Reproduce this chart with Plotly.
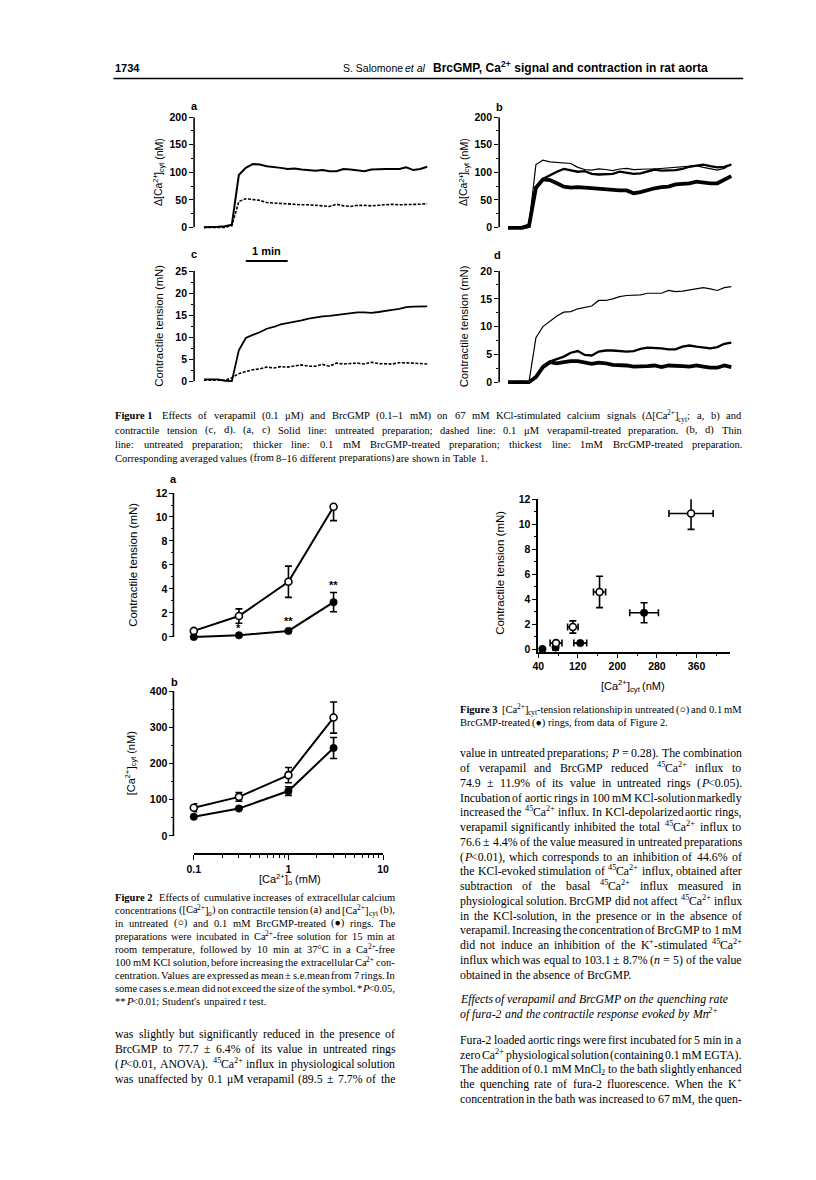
import re
import math
import plotly.graph_objects as go

W, H = 816, 1180
SANS = "Liberation Sans, Arial, Helvetica, sans-serif"
SERIF = "Liberation Serif, Times New Roman, serif"


def px(x):
    return x / W


def py(y):
    return 1 - y / H


# ---------------- Figure 1 data (time in s) ----------------
T_S = [0, 10, 20, 30, 40, 50, 60, 70, 80, 90, 100, 110, 120, 130, 140, 150, 160,
       170, 180, 190, 200, 210, 220, 230, 240, 250, 260, 270, 280, 290, 300, 310, 320]
A_UNTREATED = [0, 0, 1, 2, 5, 95, 108, 115, 114, 111, 110, 108, 106, 107, 105, 104, 103,
               104, 102, 102, 106, 105, 103, 102, 105, 106, 106, 106, 106, 109, 104, 106, 110]
A_VERAPAMIL = [0, 0, 1, 0, 3, 47, 52, 51, 49, 45, 44, 43, 43, 42, 41, 41, 40,
               39, 38, 42, 39, 38, 40, 40, 39, 40, 41, 42, 41, 41, 41, 42, 43]
B_UNTREATED = [0, 0, 2, 5, 114, 122, 119, 118, 118, 116, 109, 105, 104, 106, 105, 103, 106,
               107, 105, 106, 106, 106, 107, 107, 108, 110, 111, 112, 109, 106, 104, 107, 115]
B_BRC01 = [0, 0, 0, 5, 70, 88, 95, 101, 106, 104, 101, 102, 97, 96, 97, 97, 101,
           99, 97, 98, 102, 105, 103, 103, 104, 106, 110, 112, 114, 111, 109, 110, 114]
B_BRC1 = [-1, -1, -1, 2, 72, 87, 86, 80, 74, 72, 73, 72, 71, 69, 68, 67, 67,
          67, 62, 64, 68, 71, 73, 74, 78, 79, 80, 83, 81, 80, 80, 87, 93]
C_UNTREATED = [0.4, 0.4, 0.4, 0.1, 0, 7.0, 9.8, 10.5, 11.1, 11.9, 12.3, 12.9, 13.2, 13.4, 13.8, 14.2, 14.5,
               14.7, 14.8, 15.0, 15.2, 15.5, 15.6, 15.6, 15.5, 15.7, 16.0, 16.2, 16.4, 16.8, 16.9, 16.9, 17.0]
C_VERAPAMIL = [0.2, 0.2, 0.2, 0.2, 0.8, 1.7, 2.2, 2.6, 2.8, 3.2, 3.0, 3.3, 3.2, 3.5, 3.7, 3.4, 3.4,
               3.8, 3.4, 4.1, 3.9, 4.0, 4.1, 3.9, 4.3, 4.0, 4.0, 3.9, 4.2, 4.2, 4.1, 4.0, 3.9]
D_UNTREATED = [0, 0.1, 0.2, 0, 8.0, 10.0, 10.9, 11.9, 12.6, 12.7, 13.2, 13.4, 13.7, 14.7, 14.7, 15.0, 15.4,
               15.6, 15.7, 15.7, 16.0, 16.0, 16.0, 16.5, 16.3, 16.4, 16.6, 16.8, 17.0, 16.8, 16.5, 17.0, 17.2]
D_BRC01 = [0, 0, 0, 0, 1.0, 2.9, 3.7, 4.2, 4.6, 5.3, 5.6, 4.9, 4.8, 5.5, 5.7, 5.7, 5.6,
           5.5, 5.6, 6.0, 6.2, 6.2, 6.1, 5.9, 5.9, 6.4, 6.6, 6.4, 6.3, 6.1, 6.3, 6.9, 7.1]
D_BRC1 = [0, 0, 0, 0, 0.9, 2.7, 3.6, 3.4, 3.6, 3.8, 3.8, 3.6, 3.3, 3.5, 3.4, 3.1, 3.1,
          3.0, 2.8, 2.8, 2.9, 3.0, 2.7, 3.0, 3.0, 2.9, 2.8, 3.0, 2.8, 2.6, 2.6, 3.0, 2.7]
SCALE_BAR_S = [60, 120]
CA_TICKS = [0, 50, 100, 150, 200]
CA_MINOR = [25, 75, 125, 175]
TEN_C_TICKS = [0, 5, 10, 15, 20, 25]
TEN_D_TICKS = [0, 5, 10, 15, 20]
TEN_MINOR = [2.5, 7.5, 12.5, 17.5, 22.5]

# ---------------- Figure 2 data ----------------
CA_O_MM = [0.1, 0.3, 1, 3]
TEN_OPEN = [0.5, 1.74, 4.6, 10.85]
TEN_OPEN_PLUS = [0, 0.6, 1.3, 0]
TEN_OPEN_MINUS = [0, 0.6, 1.3, 1.15]
TEN_FILLED = [0, 0.13, 0.5, 2.9]
TEN_FILLED_ERR = [0, 0, 0, 0.8]
CYT_OPEN = [78, 108, 168, 327]
CYT_OPEN_ERR = [11, 12, 21, 43]
CYT_FILLED = [53, 76, 124, 243]
CYT_FILLED_ERR = [0, 0, 12, 29]
SIG_MARKS = [("*", 0.3, 0.75), ("**", 1, 1.35), ("**", 3, 4.35)]
F2A_TICKS = [0, 2, 4, 6, 8, 10, 12]
F2A_MINOR = [1, 3, 5, 7, 9, 11]
F2B_TICKS = [0, 100, 200, 300, 400]
F2B_MINOR = [50, 150, 250, 350]
LOG_MAJOR = [0.1, 1, 10]
LOG_MAJOR_TXT = ["0.1", "1", "10"]
LOG_MINOR = [0.2, 0.3, 0.4, 0.5, 0.6, 0.7, 0.8, 0.9, 2, 3, 4, 5, 6, 7, 8, 9]

# ---------------- Figure 3 data ----------------
F3_OPEN_X = [76, 110, 164, 349]
F3_OPEN_Y = [0.48, 1.77, 4.58, 10.86]
F3_OPEN_XERR = [12, 10.6, 12.3, 44.7]
F3_OPEN_YERR = [0, 0.49, 1.26, 1.27]
F3_FILLED_X = [48.5, 75, 125, 254]
F3_FILLED_Y = [0, 0.13, 0.48, 2.91]
F3_FILLED_XERR = [0, 5, 13, 29]
F3_FILLED_YERR = [0, 0, 0, 0.8]
F3_XTICKS = [40, 120, 200, 280, 360]
F3_XMINOR = [80, 160, 240, 320, 400]
F3_YTICKS = [0, 2, 4, 6, 8, 10, 12]
F3_YMINOR = [1, 3, 5, 7, 9, 11]

# ---------------- text ----------------
HEADER_PAGE = "<b>1734</b>"
HEADER_AUTH = "S. Salomone <i>et al</i>"
HEADER_TITLE = "<b>BrcGMP, Ca<sup>2+</sup> signal and contraction in rat aorta</b>"

FIG1_CAPTION = [
    "<b>Figure\u00a01</b>\u00a0 Effects of verapamil (0.1 \u03bcM) and BrcGMP (0.1\u20131 mM) on 67 mM KCl-stimulated calcium signals (\u0394[Ca<sup>2+</sup>]<sub>cyt</sub>; a, b) and",
    "contractile tension (c, d). (a, c) Solid line: untreated preparation; dashed line: 0.1 \u03bcM verapamil-treated preparation. (b, d) Thin",
    "line: untreated preparation; thicker line: 0.1 mM BrcGMP-treated preparation; thickest line: 1mM BrcGMP-treated preparation.",
    "Corresponding averaged values (from 8\u201316 different preparations) are shown in Table 1.",
]
FIG2_CAPTION = [
    "<b>Figure\u00a02</b>\u00a0 Effects of cumulative increases of extracellular calcium",
    "concentrations ([Ca<sup>2+</sup>]<sub>o</sub>) on contractile tension (a) and [Ca<sup>2+</sup>]<sub>cyt</sub> (b),",
    "in untreated (\u25cb) and 0.1 mM BrcGMP-treated (\u25cf) rings. The",
    "preparations were incubated in Ca<sup>2+</sup>-free solution for 15 min at",
    "room temperature, followed by 10 min at 37\u00b0C in a Ca<sup>2+</sup>-free",
    "100 mM KCl solution, before increasing the extracellular Ca<sup>2+</sup> con-",
    "centration. Values are expressed as mean \u00b1 s.e.mean from 7 rings. In",
    "some cases s.e.mean did not exceed the size of the symbol. *<i>P</i>&lt;0.05,",
    "**<i>P</i>&lt;0.01; Student's unpaired <i>t</i> test.",
]
FIG3_CAPTION = [
    "<b>Figure\u00a03</b>\u00a0 [Ca<sup>2+</sup>]<sub>cyt</sub>-tension relationship in untreated (\u25cb) and 0.1 mM",
    "BrcGMP-treated (\u25cf) rings, from data of Figure 2.",
]
LEFT_BODY = [
    "was slightly but significantly reduced in the presence of",
    "BrcGMP to 77.7 \u00b1 6.4% of its value in untreated rings",
    "(<i>P</i>&lt;0.01, ANOVA). <sup>45</sup>Ca<sup>2+</sup> influx in physiological solution",
    "was unaffected by 0.1 \u03bcM verapamil (89.5 \u00b1 7.7% of the",
]
RIGHT_BODY = [
    "value in untreated preparations; <i>P</i> = 0.28). The combination",
    "of verapamil and BrcGMP reduced <sup>45</sup>Ca<sup>2+</sup> influx to",
    "74.9 \u00b1 11.9% of its value in untreated rings (<i>P</i>&lt;0.05).",
    "Incubation of aortic rings in 100 mM KCl-solution markedly",
    "increased the <sup>45</sup>Ca<sup>2+</sup> influx. In KCl-depolarized aortic rings,",
    "verapamil significantly inhibited the total <sup>45</sup>Ca<sup>2+</sup> influx to",
    "76.6 \u00b1 4.4% of the value measured in untreated preparations",
    "(<i>P</i>&lt;0.01), which corresponds to an inhibition of 44.6% of",
    "the KCl-evoked stimulation of <sup>45</sup>Ca<sup>2+</sup> influx, obtained after",
    "subtraction of the basal <sup>45</sup>Ca<sup>2+</sup> influx measured in",
    "physiological solution. BrcGMP did not affect <sup>45</sup>Ca<sup>2+</sup> influx",
    "in the KCl-solution, in the presence or in the absence of",
    "verapamil. Increasing the concentration of BrcGMP to 1 mM",
    "did not induce an inhibition of the K<sup>+</sup>-stimulated <sup>45</sup>Ca<sup>2+</sup>",
    "influx which was equal to 103.1 \u00b1 8.7% (<i>n</i> = 5) of the value",
    "obtained in the absence of BrcGMP.",
]
HEADING = [
    "Effects of verapamil and BrcGMP on the quenching rate",
    "of fura-2 and the contractile response evoked by Mn<sup>2+</sup>",
]
RIGHT_PARA = [
    "Fura-2 loaded aortic rings were first incubated for 5 min in a",
    "zero Ca<sup>2+</sup> physiological solution (containing 0.1 mM EGTA).",
    "The addition of 0.1 mM MnCl<sub>2</sub> to the bath slightly enhanced",
    "the quenching rate of fura-2 fluorescence. When the K<sup>+</sup>",
    "concentration in the bath was increased to 67 mM, the quen-",
]
CA_TITLE = "\u0394[Ca<sup>2+</sup>]<sub>cyt</sub> (nM)"
CYT_TITLE = "[Ca<sup>2+</sup>]<sub>cyt</sub> (nM)"
CAO_TITLE = "[Ca<sup>2+</sup>]<sub>o</sub> (mM)"
TEN_TITLE = "Contractile tension (mN)"

# ---------------- text metrics ----------------
LOW = "abcdefghijklmnopqrstuvwxyz"
UP = "ABCDEFGHIJKLMNOPQRSTUVWXYZ"
SERIF_M = {
    'r': (dict(zip(LOW, [444, 500, 444, 500, 444, 333, 500, 500, 278, 278, 500, 278, 778, 500, 500, 500, 500, 333, 389, 278, 500, 500, 722, 500, 500, 444])),
          dict(zip(UP, [722, 667, 667, 722, 611, 556, 722, 722, 333, 389, 722, 611, 889, 722, 722, 556, 722, 667, 556, 611, 722, 722, 944, 722, 722, 611]))),
    'i': (dict(zip(LOW, [500, 500, 444, 500, 444, 278, 500, 500, 278, 278, 444, 278, 722, 500, 500, 500, 500, 389, 389, 278, 500, 444, 667, 444, 444, 389])),
          dict(zip(UP, [611, 611, 667, 722, 611, 611, 722, 722, 333, 444, 667, 556, 833, 667, 722, 611, 722, 611, 500, 556, 722, 611, 833, 611, 556, 556]))),
    'b': (dict(zip(LOW, [500, 556, 444, 556, 444, 333, 500, 556, 278, 333, 556, 278, 833, 556, 500, 556, 556, 444, 389, 333, 556, 500, 722, 500, 500, 444])),
          dict(zip(UP, [722, 667, 722, 722, 667, 611, 778, 778, 389, 500, 778, 667, 944, 722, 778, 611, 778, 722, 556, 667, 722, 722, 1000, 722, 722, 667]))),
    'digit': 500,
    'p': {' ': 250, '\u00a0': 250, '.': 250, ',': 250, ':': 278, ';': 278, '-': 333, '\u2013': 500,
          '(': 333, ')': 333, '[': 333, ']': 333, '%': 833, '+': 564, '=': 564, '<': 564, '>': 564,
          '\u00b1': 564, '*': 500, "'": 333, '/': 278, '\u00b0': 400, '\u03bc': 500, '\u0394': 612,
          '\u25cb': 600, '\u25cf': 600},
}
SANS_M = {
    'r': (dict(zip(LOW, [556, 556, 500, 556, 556, 278, 556, 556, 222, 222, 500, 222, 833, 556, 556, 556, 556, 333, 500, 278, 556, 500, 722, 500, 500, 500])),
          dict(zip(UP, [667, 667, 722, 722, 667, 611, 778, 722, 278, 500, 667, 556, 833, 722, 778, 667, 778, 722, 667, 611, 722, 667, 944, 667, 667, 611]))),
    'b': (dict(zip(LOW, [556, 611, 556, 611, 556, 333, 611, 611, 278, 278, 556, 278, 889, 611, 611, 611, 611, 389, 556, 333, 611, 556, 778, 556, 556, 500])),
          dict(zip(UP, [722, 722, 722, 722, 667, 611, 778, 722, 278, 556, 722, 611, 833, 722, 778, 667, 778, 722, 667, 611, 722, 667, 944, 667, 667, 611]))),
    'digit': 556,
    'p': {' ': 278, '\u00a0': 278, '.': 278, ',': 278, '(': 333, ')': 333, '[': 278, ']': 278,
          '+': 584, '-': 333, '\u0394': 668, '*': 389},
}
SANS_M['i'] = SANS_M['r']


def unescape(s):
    return s.replace('&lt;', '<').replace('&gt;', '>').replace('&amp;', '&')


def segments(token, bold=False, ital=False):
    segs = []
    shift = None
    for part in re.split(r'(<[^>]+>)', token):
        if not part:
            continue
        if part.startswith('<'):
            closing = part.startswith('</')
            tag = part.strip('<>/').lower()
            if tag in ('sup', 'sub'):
                shift = None if closing else tag
            elif tag == 'b':
                bold = not closing
            elif tag == 'i':
                ital = not closing
            continue
        segs.append((part, shift, bold, ital))
    return segs


def seg_width(text, shift, bold, ital, size, m):
    low, up = m['b' if bold else 'i' if ital else 'r']
    total = 0
    for ch in unescape(text):
        if ch in low:
            w = low[ch]
        elif ch in up:
            w = up[ch]
        elif ch.isdigit():
            w = m['digit']
        else:
            w = m['p'].get(ch, 500)
        total += w
    return total * size / 1000.0 * (0.7 if shift else 1.0)


def token_width(token, size, m, bold=False, ital=False):
    return sum(seg_width(t, s, b, i, size, m) for t, s, b, i in segments(token, bold, ital))


annotations = []
shapes = []


def ann(x, y, text, size, family, xanchor='left', yanchor='middle', angle=0, xref='paper', yref='paper',
        bold=False, ital=False):
    annotations.append(dict(x=x, y=y, xref=xref, yref=yref, text=text, showarrow=False,
                            xanchor=xanchor, yanchor=yanchor, textangle=angle,
                            borderpad=0, borderwidth=0,
                            font=dict(family=family, size=size, color='black',
                                      weight='bold' if bold else 'normal',
                                      style='italic' if ital else 'normal')))


def draw_rich(x, y, token, size, family, m, bold=False, ital=False, align='left', vertical=False):
    """Draw rich text (sup/sub/b/i) as positioned segments. x, y in page pixels."""
    segs = segments(token, bold, ital)
    total = sum(seg_width(t, s, b, i, size, m) for t, s, b, i in segs)
    if align == 'center':
        start = -total / 2
    elif align == 'right':
        start = -total
    else:
        start = 0
    cur = start
    for t, s, b, i in segs:
        w = seg_width(t, s, b, i, size, m)
        if unescape(t).strip('\u00a0 ') == '':
            cur += w
            continue
        off = -0.30 * size if s == 'sup' else (0.30 * size if s == 'sub' else 0)
        fs = size * 0.7 if s else size
        if vertical:
            ann(px(x + off), py(y - cur), t, fs, family, xanchor='center', yanchor='bottom', angle=-90,
                bold=b, ital=i)
        else:
            ann(px(x + cur), py(y + off), t, fs, family, xanchor='left', yanchor='middle', bold=b, ital=i)
        cur += w
    return total


def place_lines(lines, x0, x1, y0, dy, size, justify=True, last_justified=False, ital=False):
    for k, line in enumerate(lines):
        words = line.split(' ')
        y = y0 + k * dy
        is_last = (k == len(lines) - 1) and not last_justified
        ws = [token_width(w, size, SERIF_M, ital=ital) for w in words]
        do_just = justify and not is_last and len(words) > 1
        if do_just:
            gap = max((x1 - x0 - sum(ws)) / (len(words) - 1), 0.12 * size)
        else:
            gap = 0.3 * size
        x = x0
        for j, (w, wd) in enumerate(zip(words, ws)):
            if do_just and j == len(words) - 1:
                draw_rich(x1, y, w, size, SERIF, SERIF_M, ital=ital, align='right')
            else:
                draw_rich(x, y, w, size, SERIF, SERIF_M, ital=ital)
            x += wd + gap


fig = go.Figure()


def add_series(x, y, ax, width, dash='solid'):
    fig.add_trace(go.Scatter(x=x, y=y, xaxis='x' + ax, yaxis='y' + ax, mode='lines',
                             line=dict(color='black', width=width, dash=dash),
                             showlegend=False, hoverinfo='skip'))


# Figure 1 traces
add_series(T_S, A_UNTREATED, '', 2.0)
add_series(T_S, A_VERAPAMIL, '', 1.6, dash='3px,1.5px')
add_series(T_S, B_UNTREATED, '2', 1.2)
add_series(T_S, B_BRC01, '2', 2.3)
add_series(T_S, B_BRC1, '2', 3.8)
add_series(T_S, C_UNTREATED, '3', 1.8)
add_series(T_S, C_VERAPAMIL, '3', 1.6, dash='3px,1.5px')
add_series(T_S, D_UNTREATED, '4', 1.2)
add_series(T_S, D_BRC01, '4', 2.3)
add_series(T_S, D_BRC1, '4', 3.8)

OPEN_MK = dict(symbol='circle', size=7, color='white', line=dict(color='black', width=1.6))
FILL_MK = dict(symbol='circle', size=7.5, color='black', line=dict(color='black', width=0.5))


def err(plus, minus=None):
    if minus is None:
        minus = plus
    return dict(type='data', symmetric=False, array=plus, arrayminus=minus,
                color='black', thickness=1.6, width=3.5)


# Figure 2
fig.add_trace(go.Scatter(x=CA_O_MM, y=TEN_FILLED, xaxis='x5', yaxis='y5', mode='lines+markers',
                         line=dict(color='black', width=2), marker=FILL_MK, cliponaxis=False,
                         error_y=err(TEN_FILLED_ERR), showlegend=False, hoverinfo='skip'))
fig.add_trace(go.Scatter(x=CA_O_MM, y=TEN_OPEN, xaxis='x5', yaxis='y5', mode='lines+markers',
                         line=dict(color='black', width=2), marker=OPEN_MK, cliponaxis=False,
                         error_y=err(TEN_OPEN_PLUS, TEN_OPEN_MINUS), showlegend=False, hoverinfo='skip'))
fig.add_trace(go.Scatter(x=CA_O_MM, y=CYT_FILLED, xaxis='x6', yaxis='y6', mode='lines+markers',
                         line=dict(color='black', width=2), marker=FILL_MK, cliponaxis=False,
                         error_y=err(CYT_FILLED_ERR), showlegend=False, hoverinfo='skip'))
fig.add_trace(go.Scatter(x=CA_O_MM, y=CYT_OPEN, xaxis='x6', yaxis='y6', mode='lines+markers',
                         line=dict(color='black', width=2), marker=OPEN_MK, cliponaxis=False,
                         error_y=err(CYT_OPEN_ERR), showlegend=False, hoverinfo='skip'))

# Figure 3
fig.add_trace(go.Scatter(x=F3_FILLED_X, y=F3_FILLED_Y, xaxis='x7', yaxis='y7', mode='markers',
                         marker=FILL_MK, cliponaxis=False,
                         error_x=err(F3_FILLED_XERR), error_y=err(F3_FILLED_YERR),
                         showlegend=False, hoverinfo='skip'))
fig.add_trace(go.Scatter(x=F3_OPEN_X, y=F3_OPEN_Y, xaxis='x7', yaxis='y7', mode='markers',
                         marker=OPEN_MK, cliponaxis=False,
                         error_x=err(F3_OPEN_XERR), error_y=err(F3_OPEN_YERR),
                         showlegend=False, hoverinfo='skip'))

TICKFONT = dict(family=SANS, size=10.5, color='black', weight='bold')


def ydom(p_v0, p_v1, v0, v1, rmin, rmax):
    k = (p_v0 - p_v1) / (v1 - v0)
    bottom = p_v0 + (v0 - rmin) * k
    top = p_v1 - (rmax - v1) * k
    return [py(bottom), py(top)]


def yax(tickvals, minor, rng, dom, anchor, showline=False, position=None):
    d = dict(domain=dom, range=rng, anchor=anchor, tickmode='array', tickvals=tickvals,
             ticktext=[str(v) for v in tickvals], ticks='outside', ticklen=4, tickwidth=1.3,
             tickcolor='black', showline=showline, linecolor='black', linewidth=1.6,
             minor=dict(tickmode='array', tickvals=minor, ticks='outside', ticklen=2.5,
                        tickwidth=1.1, tickcolor='black', showgrid=False),
             showgrid=False, zeroline=False, tickfont=TICKFONT, fixedrange=True)
    if position is not None:
        d['position'] = position
    return d


K = 0.709  # px per second
XA = dict(domain=[px(182), px(425)], range=[-(192 - 182) / K, (425 - 192) / K], visible=False, fixedrange=True)
XB = dict(domain=[px(492), px(735)], range=[-(501 - 492) / K, (735 - 501) / K], visible=False, fixedrange=True)

layout = dict(
    width=W, height=H, margin=dict(l=0, r=0, t=0, b=0),
    paper_bgcolor='white', plot_bgcolor='rgba(0,0,0,0)', showlegend=False, hovermode=False,
    xaxis=dict(XA, anchor='y'),
    yaxis=yax(CA_TICKS, CA_MINOR, [-5, 200], ydom(215, 104, 0, 200, -5, 200), 'x'),
    xaxis2=dict(XB, anchor='y2'),
    yaxis2=yax(CA_TICKS, CA_MINOR, [-5, 200], ydom(215, 104, 0, 200, -5, 200), 'x2'),
    xaxis3=dict(XA, anchor='y3'),
    yaxis3=yax(TEN_C_TICKS, TEN_MINOR, [-0.6, 25], ydom(370, 259, 0, 25, -0.6, 25), 'x3'),
    xaxis4=dict(XB, anchor='y4'),
    yaxis4=yax(TEN_D_TICKS, TEN_MINOR[:4], [-0.5, 20], ydom(371, 259, 0, 20, -0.5, 20), 'x4'),
    xaxis5=dict(type='log', domain=[px(181.7), px(374)], range=[-1, 1], anchor='y5', visible=False, fixedrange=True),
    yaxis5=yax(F2A_TICKS, F2A_MINOR, [-0.3, 12], ydom(627.7, 482.7, 0, 12, -0.3, 12), 'free', position=px(161)),
    xaxis6=dict(type='log', domain=[px(181.7), px(374)], range=[-1, 1], anchor='free', position=py(846.7),
                showline=True, linecolor='black', linewidth=1.6, tickmode='array', tickvals=LOG_MAJOR,
                ticktext=LOG_MAJOR_TXT, ticks='outside', ticklen=5, tickwidth=1.4, tickcolor='black',
                minor=dict(tickmode='array', tickvals=LOG_MINOR, ticks='outside', ticklen=3,
                           tickwidth=1.1, tickcolor='black', showgrid=False),
                showgrid=False, zeroline=False, tickfont=TICKFONT, fixedrange=True),
    yaxis6=yax(F2B_TICKS, F2B_MINOR, [-8, 400], ydom(828.3, 682.3, 0, 400, -8, 400), 'free', position=px(161)),
    xaxis7=dict(domain=[px(531.7), px(726.7)], range=[40, 428], anchor='y7', showline=True,
                linecolor='black', linewidth=1.6, tickmode='array', tickvals=F3_XTICKS,
                ticktext=[str(v) for v in F3_XTICKS], ticks='outside', ticklen=4, tickwidth=1.3,
                tickcolor='black',
                minor=dict(tickmode='array', tickvals=F3_XMINOR, ticks='outside', ticklen=2.5,
                           tickwidth=1.1, tickcolor='black', showgrid=False),
                showgrid=False, zeroline=False, tickfont=TICKFONT, fixedrange=True),
    yaxis7=yax(F3_YTICKS, F3_YMINOR, [-0.21, 12], ydom(640, 489, 0, 12, -0.21, 12), 'x7', showline=True),
)

# y-axis lines of Figure 1 panels (exact 0..max)
for axn, top in (('', 200), ('2', 200), ('3', 25), ('4', 20)):
    shapes.append(dict(type='line', xref='x%s domain' % axn, x0=0, x1=0, yref='y' + axn, y0=0, y1=top,
                       line=dict(color='black', width=1.6)))
# y-axis lines of Figure 2
shapes.append(dict(type='line', xref='paper', x0=px(161), x1=px(161), yref='y5', y0=0, y1=12,
                   line=dict(color='black', width=1.6)))
shapes.append(dict(type='line', xref='paper', x0=px(161), x1=px(161), yref='y6', y0=0, y1=400,
                   line=dict(color='black', width=1.6)))
# 1 min scale bar
shapes.append(dict(type='line', xref='x3', x0=SCALE_BAR_S[0], x1=SCALE_BAR_S[1], yref='paper',
                   y0=py(249), y1=py(249), line=dict(color='black', width=2)))
# header rule
shapes.append(dict(type='line', xref='paper', yref='paper', x0=px(100), x1=px(740), y0=py(65), y1=py(65),
                   line=dict(color='black', width=1.5)))

# Header
draw_rich(102, 54, HEADER_PAGE, 11, SANS, SANS_M)
draw_rich(333, 54, HEADER_AUTH, 10.5, SANS, SANS_M)
draw_rich(425, 54, HEADER_TITLE, 12, SANS, SANS_M)

# Figure 1 labels
for lab, x, y in (('a', 182, 93), ('b', 492, 94), ('c', 182, 242), ('d', 490, 243)):
    ann(px(x), py(y), lab, 11, SANS, xanchor='center', bold=True)
draw_rich(146, 159.5, CA_TITLE, 10.5, SANS, SANS_M, align='center', vertical=True)
draw_rich(456, 159.5, CA_TITLE, 10.5, SANS, SANS_M, align='center', vertical=True)
ann(px(146), py(314.5), TEN_TITLE, 11.3, SANS, xanchor='center', angle=-90)
ann(px(456), py(315), TEN_TITLE, 11.3, SANS, xanchor='center', angle=-90)
ann(sum(SCALE_BAR_S) / 2, py(239), "1 min", 11, SANS, xanchor='center', xref='x3', bold=True)

# Figure 2 labels
ann(px(161), py(469), 'a', 11, SANS, xanchor='center', bold=True)
ann(px(161.7), py(672.7), 'b', 11, SANS, xanchor='center', bold=True)
ann(px(120), py(555), TEN_TITLE, 11.5, SANS, xanchor='center', angle=-90)
draw_rich(118, 755, CYT_TITLE, 11, SANS, SANS_M, align='center', vertical=True)
draw_rich(279, 872, CAO_TITLE, 11, SANS, SANS_M, align='center')
for s, xv, yv in SIG_MARKS:
    ann(math.log10(xv), yv, s, 11, SANS, xanchor='center', xref='x5', yref='y5', bold=True)

# Figure 3 labels
ann(px(493), py(563), TEN_TITLE, 11.5, SANS, xanchor='center', angle=-90)
draw_rich(628, 677, CYT_TITLE, 11, SANS, SANS_M, align='center')

# Captions and body text
place_lines(FIG1_CAPTION, 102, 738, 405, 14.3, 10.5)
place_lines(FIG2_CAPTION, 102, 386, 890, 13.1, 10.5)
place_lines(FIG3_CAPTION, 452, 738, 701, 13.2, 10.5)
place_lines(LEFT_BODY, 102, 386, 1028, 15.0, 11.8, last_justified=True)
place_lines(RIGHT_BODY, 452, 738, 745, 14.87, 11.8)
place_lines(HEADING, 452, 738, 993, 15.0, 11.8, justify=False, ital=True)
place_lines(RIGHT_PARA, 452, 738, 1034, 14.75, 11.8, last_justified=True)

layout['annotations'] = annotations
layout['shapes'] = shapes
fig.update_layout(**layout)
fig.write_html("out.html")
